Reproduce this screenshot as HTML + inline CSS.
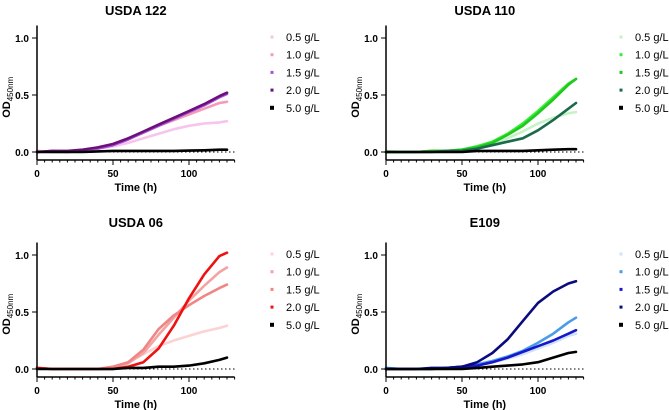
<!DOCTYPE html>
<html><head><meta charset="utf-8"><style>
html,body{margin:0;padding:0;background:#fff;}
svg{display:block;font-family:"Liberation Sans",Arial,sans-serif;}
</style></head><body>
<svg id="chart" width="669" height="410" viewBox="0 0 669 410"></svg>
<script>
const times = [0,10,20,30,40,50,60,70,80,90,100,110,120,125];
const legendLabels = ["0.5 g/L","1.0 g/L","1.5 g/L","2.0 g/L","5.0 g/L"];
const xTicks = [0,50,100];
const yTicks = [0.0,0.5,1.0];
const yTickLabels = ["0.0","0.5","1.0"];
const titles = ["USDA 122","USDA 110","USDA 06","E109"];
const usda122 = [
 [0.01,0,0,0.01,0.03,0.05,0.08,0.12,0.16,0.2,0.23,0.25,0.26,0.27],
 [0.01,0,0,0.01,0.04,0.07,0.12,0.17,0.23,0.28,0.33,0.38,0.43,0.44],
 [0,0.01,0,0.01,0.03,0.06,0.11,0.17,0.23,0.29,0.35,0.41,0.48,0.51],
 [0,0.01,0.01,0.02,0.04,0.07,0.12,0.18,0.24,0.3,0.36,0.42,0.49,0.52],
 [0,0,0,0,0.005,0.01,0.01,0.01,0.01,0.01,0.012,0.015,0.02,0.02]];
const usda110 = [
 [0.01,0,0,0,0,0.01,0.03,0.07,0.12,0.18,0.25,0.3,0.34,0.35],
 [0,0,0,0.01,0.01,0.02,0.05,0.09,0.16,0.25,0.36,0.48,0.6,0.64],
 [0,0,0,0.01,0.01,0.02,0.04,0.08,0.15,0.23,0.34,0.46,0.59,0.64],
 [0,0,0,0,0.01,0.01,0.03,0.06,0.09,0.12,0.19,0.28,0.38,0.43],
 [0,0,0,0,0,0,0.01,0.01,0.01,0.01,0.015,0.02,0.025,0.025]];
const usda06 = [
 [0.01,0,0,0,0,0.02,0.06,0.13,0.2,0.25,0.29,0.33,0.36,0.38],
 [0.01,0,0,0,0,0.01,0.05,0.14,0.3,0.45,0.6,0.73,0.85,0.89],
 [0.01,0,0,0,0,0.02,0.06,0.17,0.35,0.47,0.56,0.64,0.71,0.74],
 [0.01,0,0,0,0,0,0.02,0.06,0.18,0.38,0.62,0.83,0.99,1.02],
 [0,0,0,0,0,0,0.01,0.01,0.02,0.02,0.03,0.05,0.08,0.1]];
const e109 = [
 [0.01,0,0,0,0,0.01,0.03,0.06,0.09,0.13,0.18,0.23,0.29,0.31],
 [0.01,0,0,0,0.01,0.02,0.04,0.07,0.11,0.16,0.23,0.31,0.41,0.45],
 [0,0,0,0,0.01,0.02,0.03,0.06,0.1,0.15,0.2,0.25,0.31,0.34],
 [0,0,0,0.01,0.01,0.02,0.06,0.14,0.26,0.42,0.58,0.68,0.75,0.77],
 [0,0,0,0,0,0,0.01,0.02,0.03,0.04,0.06,0.1,0.14,0.15]];
const datasets = [usda122,usda110,usda06,e109];
const palettes = [
 ["#f6c4ec","#f59ab8","#a653d6","#6b0f7c","#000"],
 ["#c6f3c6","#35ee35","#20c820","#1b6a4c","#000"],
 ["#fbd3d3","#f4a3a3","#f08585","#ee1111","#000"],
 ["#cfe2f6","#4a9be8","#1616cc","#0b0b80","#000"]];
const layout = [{x0:37,y0:152,ty:10},{x0:386,y0:152,ty:10},{x0:37,y0:369,ty:222},{x0:386,y0:369,ty:222}];
const NS="http://www.w3.org/2000/svg";
const svg=document.getElementById('chart');
function mk(tag,attrs,parent){const e=document.createElementNS(NS,tag);for(const k in attrs)e.setAttribute(k,attrs[k]);(parent||svg).appendChild(e);return e;}
layout.forEach((L,p)=>{
  const g=mk('g',{});
  
  
  const xs=t=>L.x0+t*1.52, ys=v=>L.y0-v*114;
  const axisY=L.y0+8, xEnd=xs(130), yTop=ys(1.11);
  const title=mk('text',{x:xs(65),y:L.ty+5,'text-anchor':'middle','font-size':13,'font-weight':'bold'},g);
  title.textContent=titles[p];
  
  
  const zl=mk('line',{x1:xs(0),x2:xEnd,y1:ys(0),y2:ys(0),stroke:'#000','stroke-width':1,'stroke-dasharray':'1.5,2.5'},g);
  
  
  datasets[p].forEach((vals,s)=>{
    const pts=vals.map((v,i)=>xs(times[i]).toFixed(1)+','+ys(v).toFixed(1)).join(' ');
    const pl=mk('polyline',{points:pts,fill:'none',stroke:palettes[p][s],'stroke-width':2.6,'stroke-linejoin':'round','stroke-linecap':'round'},g);
    
    
  });
  const ya=mk('line',{x1:L.x0,x2:L.x0,y1:yTop,y2:axisY,stroke:'#000','stroke-width':1.5},g);
  
  
  const xa=mk('line',{x1:L.x0,x2:xEnd,y1:axisY,y2:axisY,stroke:'#000','stroke-width':1.5},g);
  
  
  for(let t=0;t<=130;t+=5){
    const major=t%50===0;
    mk('line',{x1:xs(t),x2:xs(t),y1:axisY,y2:axisY+(major?5:2.5),stroke:'#000','stroke-width':1},g);
  }
  xTicks.forEach(t=>{
    const tx=mk('text',{x:xs(t),y:axisY+17,'text-anchor':'middle','font-size':10,'font-weight':'bold'},g);
    tx.textContent=t;
    
    
  });
  yTicks.forEach((v,i)=>{
    mk('line',{x1:L.x0-5,x2:L.x0,y1:ys(v),y2:ys(v),stroke:'#000','stroke-width':1},g);
    const tx=mk('text',{x:L.x0-8,y:ys(v)+4,'text-anchor':'end','font-size':10,'font-weight':'bold'},g);
    tx.textContent=yTickLabels[i];
    
    
  });
  const xt=mk('text',{x:xs(65),y:axisY+31,'text-anchor':'middle','font-size':11,'font-weight':'bold'},g);
  xt.textContent='Time (h)';
  
  
  const yt=mk('text',{x:0,y:0,'font-size':11,'font-weight':'bold','text-anchor':'middle',transform:`translate(${L.x0-27},${ys(0.48)}) rotate(-90)`},g);
  
  
  yt.appendChild(document.createTextNode('OD'));
  const sub=mk('tspan',{'font-size':8,'font-weight':'normal',dy:3},yt);
  sub.textContent='450nm';
  const lx=L.x0+235, ly0=L.y0-115;
  legendLabels.forEach((lab,s)=>{
    const y=ly0+s*17.7;
    const sz=s===4?4:3;
    const r=mk('rect',{x:lx-sz/2,y:y-sz/2,width:sz,height:sz,fill:palettes[p][s]},g);
    
    
    const t=mk('text',{x:lx+14,y:y+4,'font-size':11},g);
    t.textContent=lab;
    
    
  });
});
</script>
</body></html>
